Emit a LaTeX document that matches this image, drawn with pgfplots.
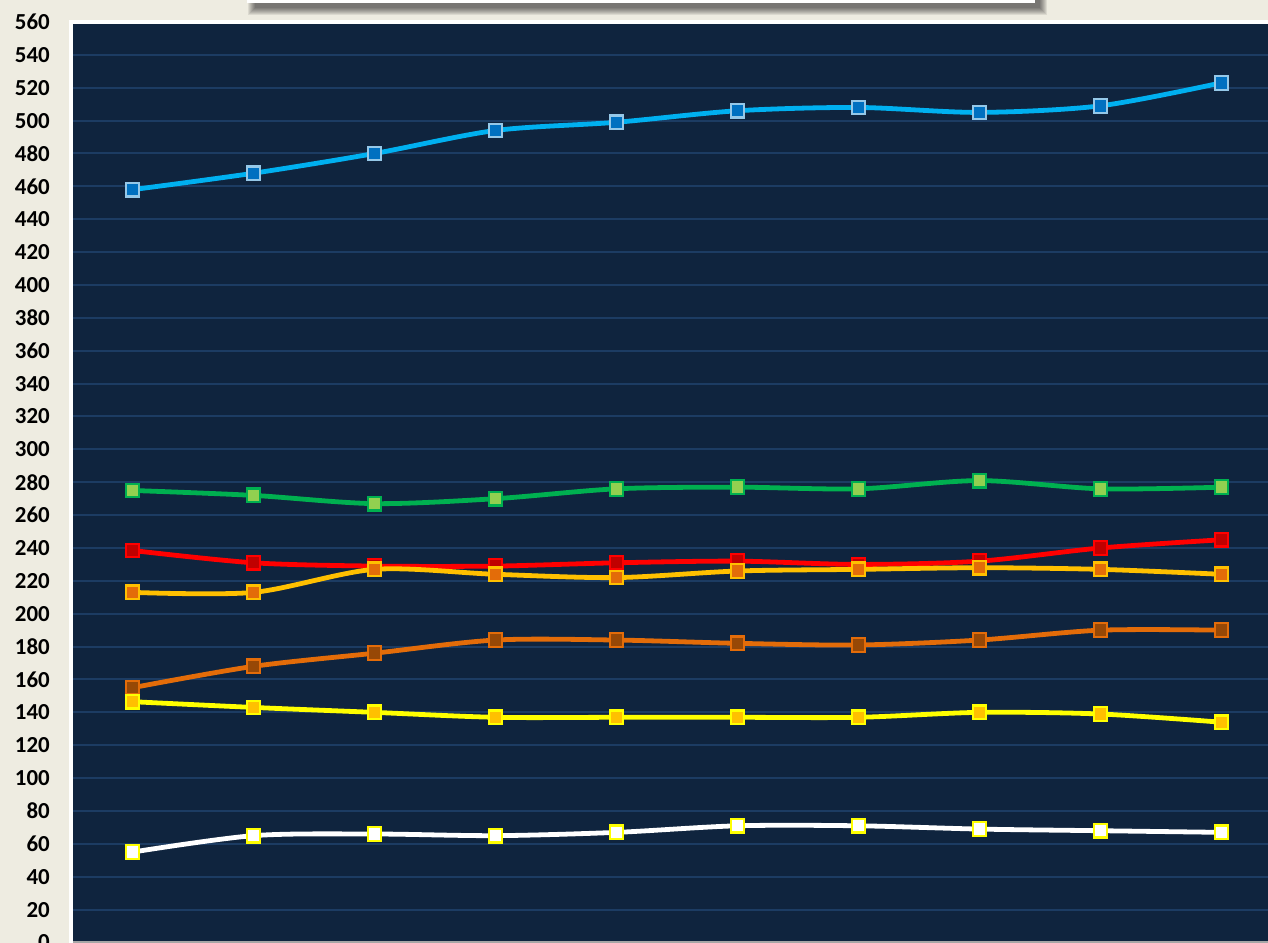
\documentclass[border=0pt]{standalone}
\usepackage{fontspec}
\setmainfont{Carlito}
\usepackage{pgfplots}
\pgfplotsset{compat=1.18}
\definecolor{bgbeige}{HTML}{EEECE1}
\definecolor{navy}{HTML}{0F243E}
\definecolor{gridc}{HTML}{1C3C63}
\definecolor{bluel}{HTML}{00B0F0}
\definecolor{bluef}{HTML}{0070C0}
\definecolor{blueb}{HTML}{95C8E8}
\definecolor{greenl}{HTML}{00B050}
\definecolor{greenf}{HTML}{92D050}
\definecolor{redl}{HTML}{FF0000}
\definecolor{redf}{HTML}{C00000}
\definecolor{goldl}{HTML}{FFC000}
\definecolor{orangel}{HTML}{E36C09}
\definecolor{brownf}{HTML}{974806}
\definecolor{yell}{HTML}{FFFF00}
\begin{document}
\begin{tikzpicture}
\fill[bgbeige] (0,0) rectangle (1268bp,943bp);
% title box shadow (soft)
\foreach \r in {5,4,3,2,1,0,-1,-2}{
  \fill[black,opacity=0.08] ({(253-\r)*1bp},{(933-\r)*1bp}) rectangle ({(1042+\r)*1bp},963bp);
}
\fill[white] (247bp,940bp) rectangle (1035bp,963bp);
\begin{axis}[
  at={(72bp,0.5bp)}, anchor=south west,
  scale only axis, width=1210bp, height=920.5bp,
  xmin=-0.5, xmax=9.5, ymin=0, ymax=560,
  ytick={0,20,...,560}, xtick=\empty,
  ymajorgrids, grid style={color=gridc, line width=2bp},
  major tick length=0pt,
  axis line style={draw=none},
  axis background/.style={fill=navy},
  /pgf/number format/assume math mode=true,
  yticklabel style={font=\bfseries\fontsize{23}{25}\selectfont, anchor=east, inner sep=0pt, xshift=-22bp},
  every axis plot/.append style={smooth, line width=4.8bp, mark=square*, mark size=6.8bp},
]
\addplot[color=bluel, mark options={fill=bluef, draw=blueb, line width=2.2bp}] coordinates {
(0,458) (1,468) (2,480) (3,494) (4,499) (5,506) (6,508) (7,505) (8,509) (9,523)};
\addplot[color=greenl, mark options={fill=greenf, draw=greenl, line width=2.2bp}] coordinates {
(0,275) (1,272) (2,267) (3,270) (4,276) (5,277) (6,276) (7,281) (8,276) (9,277)};
\addplot[color=redl, mark options={fill=redf, draw=redl, line width=2.2bp}] coordinates {
(0,238.5) (1,231) (2,229) (3,229) (4,231) (5,232) (6,230) (7,232) (8,240) (9,245)};
\addplot[color=goldl, mark options={fill=orangel, draw=goldl, line width=2.2bp}] coordinates {
(0,213) (1,213) (2,227) (3,224) (4,222) (5,226) (6,227) (7,228) (8,227) (9,224)};
\addplot[color=orangel, mark options={fill=brownf, draw=orangel, line width=2.2bp}] coordinates {
(0,155) (1,168) (2,176) (3,184) (4,184) (5,182) (6,181) (7,184) (8,190) (9,190)};
\addplot[color=yell, mark options={fill=goldl, draw=yell, line width=2.2bp}] coordinates {
(0,146.5) (1,143) (2,140) (3,137) (4,137) (5,137) (6,137) (7,140) (8,139) (9,134)};
\addplot[color=white, mark options={fill=white, draw=yell, line width=2.2bp}] coordinates {
(0,55) (1,65) (2,66) (3,65) (4,67) (5,71) (6,71) (7,69) (8,68) (9,67)};
\end{axis}
\draw[white, line width=4bp] (71bp,-5bp) -- (71bp,921bp) -- (1290bp,921bp);
\draw[gray!70, line width=1.5bp] (73bp,0.8bp) -- (1290bp,0.8bp);
\pgfresetboundingbox
\useasboundingbox (0,0) rectangle (1268bp,943bp);
\end{tikzpicture}
\end{document}
